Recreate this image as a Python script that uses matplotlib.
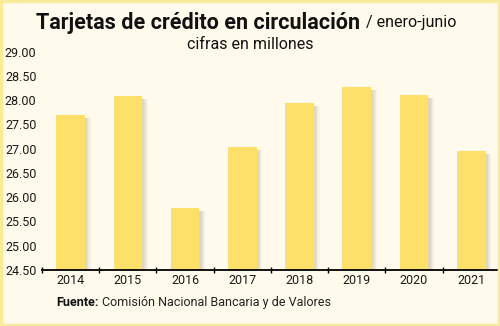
import matplotlib.pyplot as plt
from matplotlib.patches import Rectangle

anios = ['2014', '2015', '2016', '2017', '2018', '2019', '2020', '2021']
tarjetas = [27.70, 28.08, 25.78, 27.03, 27.93, 28.27, 28.10, 26.94]
yticks = [24.5, 25.0, 25.5, 26.0, 26.5, 27.0, 27.5, 28.0, 28.5, 29.0]

fondo = '#FFFAEC'
amarillo = '#FCE06A'
plt.rcParams['font.family'] = ['Roboto', 'DejaVu Sans']

fig = plt.figure(figsize=(5, 3.26), dpi=100)
fig.patch.set_facecolor(fondo)
# marco amarillo
fig.patches.append(Rectangle((0.002, 0.003), 0.996, 0.994, transform=fig.transFigure,
                             fill=False, edgecolor='#F8EC9C', linewidth=2.5))

ax = fig.add_axes([0.084, 0.172, 0.91, 0.67])
ax.set_facecolor(fondo)
x = list(range(len(anios)))

# sombra difusa a la derecha de cada barra
for d, a in [(0.10, 0.05), (0.08, 0.07), (0.06, 0.09), (0.04, 0.11)]:
    ax.bar([i + d for i in x], [v - 24.5 - 0.06 for v in tarjetas], width=0.5, bottom=24.5,
           color='#8a8470', alpha=a, linewidth=0, zorder=1)
ax.bar(x, [v - 24.5 for v in tarjetas], width=0.5, bottom=24.5, color=amarillo,
       linewidth=0, zorder=2)

ax.set_ylim(24.5, 29.0)
ax.set_xlim(-0.5, 7.45)
ax.set_yticks(yticks)
ax.set_yticklabels(['%.2f' % v for v in yticks], fontsize=9, color='#1a1a1a')
ax.set_xticks(x)
ax.set_xticklabels(anios, fontsize=9, color='#1a1a1a')
ax.set_xticks([i + 0.5 for i in x[:-1]] + [-0.5], minor=True)
ax.tick_params(axis='x', which='major', length=0, pad=3)
ax.tick_params(axis='x', which='minor', length=4, direction='inout', width=1)
ax.tick_params(axis='y', length=0, pad=4)
for s in ['top', 'right', 'left']:
    ax.spines[s].set_visible(False)
ax.spines['bottom'].set_linewidth(1.3)
ax.spines['bottom'].set_zorder(5)

titulo = fig.text(0.072, 0.93, 'Tarjetas de crédito en circulación', fontsize=15.5,
                  fontweight='bold', color='#111111', va='center', ha='left')
fig.canvas.draw()
bb = titulo.get_window_extent().transformed(fig.transFigure.inverted())
fig.text(bb.x1 + 0.012, 0.93, '/ enero-junio', fontsize=11.5, color='#111111',
         va='center', ha='left')
fig.text(0.5, 0.862, 'cifras en millones', fontsize=11.5, color='#111111', va='center', ha='center')
fig.text(0.113, 0.073, 'Fuente:', fontsize=9, fontweight='bold', color='#111111', va='center')
fig.text(0.203, 0.073, 'Comisión Nacional Bancaria y de Valores', fontsize=9,
         color='#222222', va='center')

fig.savefig('out.png', dpi=100, facecolor=fondo)
